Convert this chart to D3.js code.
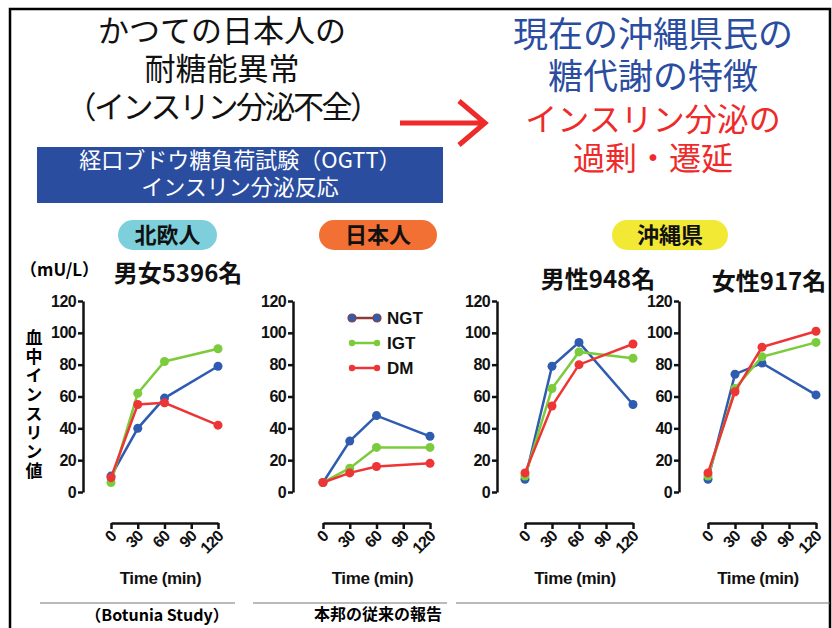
<!DOCTYPE html>
<html>
<head>
<meta charset="utf-8">
<script src="https://cdn.jsdelivr.net/npm/d3@7/dist/d3.min.js"></script>
<style>
  html, body { margin: 0; padding: 0; background: #fff; }
  svg { display: block; }
  .jp { font-family: "Noto Sans CJK JP", "Noto Sans", sans-serif; }
  .num { font-family: "Liberation Sans", Arial, sans-serif; font-weight: bold; }
</style>
</head>
<body>
<svg id="chart" width="832" height="628"></svg>
<script>
// OGTT insulin response (mU/L) at each sampling time
const timePoints = [0, 30, 60, 120];
const xTicks = [0, 30, 60, 90, 120];
const yTicks = [0, 20, 40, 60, 80, 100, 120];
const seriesNames = ["NGT", "IGT", "DM"];

// 北欧人 (Botnia Study), men and women
const nordicNGT = [10, 40, 59, 79];
const nordicIGT = [6, 62, 82, 90];
const nordicDM  = [9, 55, 56, 42];

// 日本人 (earlier domestic reports)
const japanNGT = [6, 32, 48, 35];
const japanIGT = [6, 15, 28, 28];
const japanDM  = [6, 12, 16, 18];

// 沖縄県 men
const okiMaleNGT = [8, 79, 94, 55];
const okiMaleIGT = [10, 65, 88, 84];
const okiMaleDM  = [12, 54, 80, 93];

// 沖縄県 women
const okiFemaleNGT = [8, 74, 81, 61];
const okiFemaleIGT = [10, 65, 85, 94];
const okiFemaleDM  = [12, 63, 91, 101];

const seriesColor = { NGT: "#2f5cb0", IGT: "#7ccb3c", DM: "#ee3535" };

const svg = d3.select("#chart");

// outer frame
svg.append("path")
  .attr("d", "M10,640 V9 H830 V640")
  .attr("fill", "none").attr("stroke", "#000").attr("stroke-width", 2.5);

// ---- headline block ----
const leftTitle = [
  { t: "かつての日本人の", ls: 0 },
  { t: "耐糖能異常", ls: 0 },
  { t: "（インスリン分泌不全）", ls: -2.5 }
];
svg.append("g").selectAll("text").data(leftTitle).join("text")
  .attr("class", "jp")
  .attr("x", 222).attr("y", (d, i) => 42 + i * 38)
  .attr("text-anchor", "middle")
  .attr("font-size", 31).attr("fill", "#111")
  .attr("letter-spacing", d => d.ls)
  .text(d => d.t);

svg.append("rect").attr("x", 37).attr("y", 147).attr("width", 406).attr("height", 56)
  .attr("fill", "#2a4d9f");
svg.append("g").selectAll("text").data(["経口ブドウ糖負荷試験（OGTT）", "インスリン分泌反応"]).join("text")
  .attr("class", "jp")
  .attr("x", 240).attr("y", (d, i) => 168 + i * 27)
  .attr("text-anchor", "middle")
  .attr("font-size", 22).attr("fill", "#fff")
  .text(d => d);

// arrow
svg.append("path")
  .attr("d", "M400,123 H484 M459,101 L485,123 L459,145")
  .attr("fill", "none").attr("stroke", "#ee2a2a").attr("stroke-width", 5);

const rightTitle = [
  { t: "現在の沖縄県民の", c: "#2a4d9f", s: 35, y: 47 },
  { t: "糖代謝の特徴", c: "#2a4d9f", s: 35, y: 89 },
  { t: "インスリン分泌の", c: "#ee2a2a", s: 32, y: 131 },
  { t: "過剰・遷延", c: "#ee2a2a", s: 32, y: 170 }
];
svg.append("g").selectAll("text").data(rightTitle).join("text")
  .attr("class", "jp")
  .attr("x", 653).attr("y", d => d.y)
  .attr("text-anchor", "middle")
  .attr("font-size", d => d.s).attr("fill", d => d.c)
  .text(d => d.t);

// ---- group badges ----
const badges = [
  { t: "北欧人", x: 118, w: 99, c: "#7dd0db" },
  { t: "日本人", x: 319, w: 118, c: "#f27033" },
  { t: "沖縄県", x: 612, w: 116, c: "#f2e935" }
];
const bg = svg.append("g");
badges.forEach(b => {
  bg.append("rect").attr("x", b.x).attr("y", 220).attr("width", b.w).attr("height", 30)
    .attr("rx", 15).attr("fill", b.c);
  bg.append("text").attr("class", "jp")
    .attr("x", b.x + b.w / 2).attr("y", 243)
    .attr("text-anchor", "middle").attr("font-size", 22).attr("font-weight", "bold")
    .attr("fill", "#111").text(b.t);
});

// ---- subtitles ----
svg.append("text").attr("class", "jp").attr("x", 20).attr("y", 276)
  .attr("font-size", 17).attr("font-weight", "bold").text("（mU/L）");
const subtitles = [
  { t: "男女5396名", x: 178, y: 282 },
  { t: "男性948名", x: 598, y: 288 },
  { t: "女性917名", x: 769, y: 290 }
];
svg.append("g").selectAll("text").data(subtitles).join("text")
  .attr("class", "jp")
  .attr("x", d => d.x).attr("y", d => d.y)
  .attr("text-anchor", "middle").attr("font-size", 24).attr("font-weight", "bold")
  .attr("fill", "#111").text(d => d.t);

// vertical y-axis title
svg.append("text").attr("class", "jp")
  .attr("x", 34).attr("y", 405)
  .attr("text-anchor", "middle")
  .style("writing-mode", "vertical-rl")
  .attr("font-size", 17).attr("font-weight", "bold")
  .attr("letter-spacing", 2)
  .text("血中インスリン値");

// ---- panels ----
const panels = [
  { axisX: 83,  x0: 111, x1: 218, series: [nordicNGT, nordicIGT, nordicDM] },
  { axisX: 293, x0: 323, x1: 430, series: [japanNGT, japanIGT, japanDM] },
  { axisX: 497, x0: 525, x1: 633, series: [okiMaleNGT, okiMaleIGT, okiMaleDM] },
  { axisX: 679, x0: 708, x1: 816, series: [okiFemaleNGT, okiFemaleIGT, okiFemaleDM] }
];

const y = d3.scaleLinear().domain([0, 120]).range([492, 301]);

panels.forEach(p => {
  const g = svg.append("g");
  const x = d3.scaleLinear().domain([0, 120]).range([p.x0, p.x1]);

  const yAxis = g.append("g").attr("transform", `translate(${p.axisX},0)`)
    .call(d3.axisLeft(y).tickValues(yTicks).tickSize(5).tickSizeOuter(0).tickPadding(2));
  yAxis.selectAll("path, line").attr("stroke", "#111").attr("stroke-width", 2.5);
  yAxis.selectAll("text").attr("class", "num").attr("font-size", 16)
    .attr("letter-spacing", -0.6).attr("fill", "#111");

  const xAxis = g.append("g").attr("transform", "translate(0,523)")
    .call(d3.axisBottom(x).tickValues(xTicks).tickSize(6).tickSizeOuter(0).tickFormat(d3.format("d")));
  xAxis.selectAll("path, line").attr("stroke", "#111").attr("stroke-width", 2.5);
  xAxis.selectAll("text")
    .attr("class", "num").attr("font-size", 16).attr("fill", "#111")
    .attr("letter-spacing", -0.6)
    .attr("text-anchor", "end")
    .attr("y", 0).attr("dy", 0)
    .attr("transform", "translate(6,14) rotate(-45)");

  g.append("text").attr("class", "num")
    .attr("x", (p.x0 + p.x1) / 2 - 4).attr("y", 584)
    .attr("text-anchor", "middle").attr("font-size", 17).attr("fill", "#111")
    .attr("letter-spacing", -0.4)
    .text("Time (min)");

  const line = d3.line().x((d, i) => x(timePoints[i])).y(d => y(d));
  p.series.forEach((vals, si) => {
    const col = seriesColor[seriesNames[si]];
    g.append("path").datum(vals).attr("d", line)
      .attr("fill", "none").attr("stroke", col).attr("stroke-width", 2.5);
    g.append("g").selectAll("circle").data(vals).join("circle")
      .attr("cx", (d, i) => x(timePoints[i])).attr("cy", d => y(d))
      .attr("r", 4.5).attr("fill", col);
  });
});

// ---- legend ----
const legend = svg.append("g");
seriesNames.forEach((name, i) => {
  const ly = 318 + i * 25;
  const isNGT = name === "NGT";
  legend.append("line").attr("x1", 352).attr("x2", 377).attr("y1", ly).attr("y2", ly)
    .attr("stroke", isNGT ? "#8b3b3b" : seriesColor[name]).attr("stroke-width", 2.5);
  [352, 377].forEach(cx => {
    legend.append("circle").attr("cx", cx).attr("cy", ly)
      .attr("r", isNGT ? 4 : 3.2)
      .attr("fill", seriesColor[name])
      .attr("stroke", isNGT ? "#8b3b3b" : "none").attr("stroke-width", 1.2);
  });
  legend.append("text").attr("class", "num")
    .attr("x", 387).attr("y", ly + 6).attr("font-size", 17).attr("fill", "#111")
    .text(name);
});

// ---- source notes ----
const rules = [[40, 235], [253, 447], [456, 830]];
svg.append("g").selectAll("line").data(rules).join("line")
  .attr("x1", d => d[0]).attr("x2", d => d[1]).attr("y1", 603).attr("y2", 603)
  .attr("stroke", "#777").attr("stroke-width", 1.2);
svg.append("text").attr("class", "jp").attr("x", 157).attr("y", 621)
  .attr("text-anchor", "middle").attr("font-size", 16).attr("font-weight", "bold")
  .text("（Botunia Study）");
svg.append("text").attr("class", "jp").attr("x", 378).attr("y", 620)
  .attr("text-anchor", "middle").attr("font-size", 16).attr("font-weight", "bold")
  .text("本邦の従来の報告");
</script>
</body>
</html>
